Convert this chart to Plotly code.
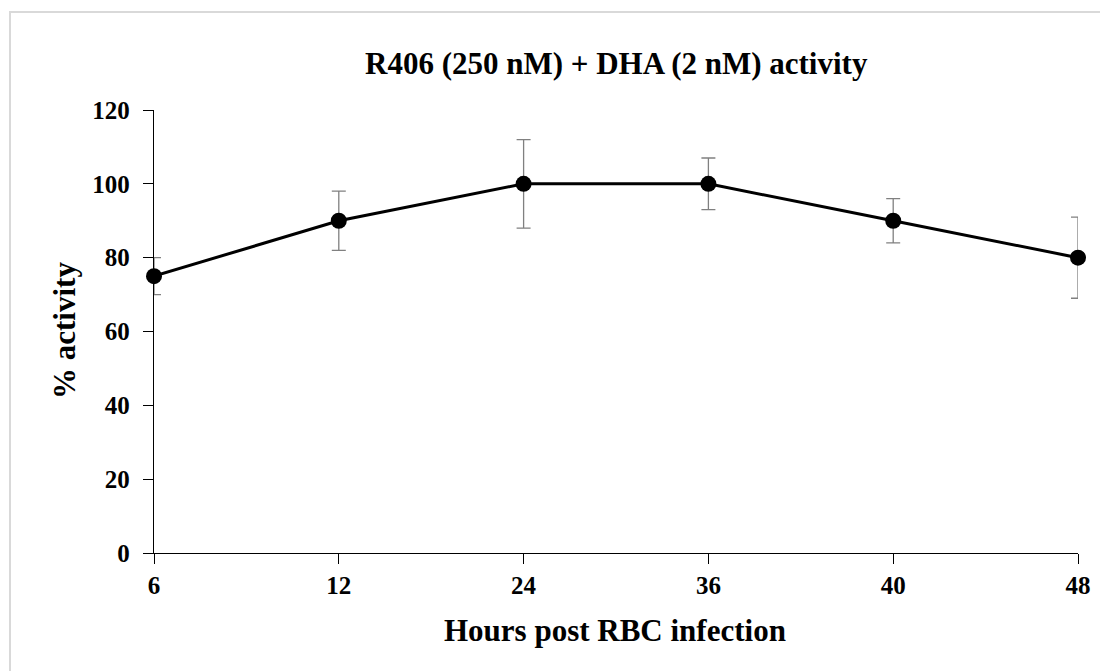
import plotly.graph_objects as go

hours = ["6", "12", "24", "36", "40", "48"]
activity = [75, 90, 100, 100, 90, 80]
err = [5, 8, 12, 7, 6, 11]
y_ticks = [0, 20, 40, 60, 80, 100, 120]

OFF = 8  # page body margin
W, H = 1108 - OFF, 671 - OFF
# screen-space plot area
SX0, SX1, SY0, SY1 = 154, 1078, 110, 553
L, R, T, B = SX0 - OFF, W - (SX1 - OFF), SY0 - OFF, H - (SY1 - OFF)
pw, ph = W - L - R, H - T - B

def px(xs):
    return (xs - OFF - L) / pw

def py(ys):
    return (H - B - (ys - OFF)) / ph

font = "Liberation Serif, Times New Roman, serif"

fig = go.Figure()
fig.add_trace(go.Scatter(
    x=hours, y=activity, mode="lines+markers",
    line=dict(color="black", width=3),
    marker=dict(color="black", size=16),
    error_y=dict(type="data", array=err, visible=True, color="#808080", thickness=1.3, width=7),
    cliponaxis=False, showlegend=False,
))

fig.update_layout(
    width=W, height=H,
    margin=dict(l=L, r=R, t=T, b=B),
    paper_bgcolor="white", plot_bgcolor="white",
    font=dict(family=font, color="black"),
    xaxis=dict(type="category", range=[0, 5], showline=True, linecolor="black", linewidth=1.3,
               ticks="outside", ticklen=10, tickcolor="black", showgrid=False, zeroline=False,
               tickfont=dict(size=25, family=font, weight="bold")),
    yaxis=dict(range=[0, 120], tickvals=y_ticks, showline=True, linecolor="black", linewidth=1.3,
               ticks="outside", ticklen=10, tickcolor="black", showgrid=False, zeroline=False,
               ticklabelstandoff=8,
               tickfont=dict(size=25, family=font, weight="bold")),
    annotations=[
        dict(text="<b>R406 (250 nM) + DHA (2 nM) activity</b>", xref="paper", yref="paper",
             x=px(616), y=py(64), xanchor="center", yanchor="middle", showarrow=False,
             font=dict(size=31, family=font)),
        dict(text="<b>Hours post RBC infection</b>", xref="paper", yref="paper",
             x=px(615), y=py(630), xanchor="center", yanchor="middle", showarrow=False,
             font=dict(size=31, family=font)),
        dict(text="<b>% activity</b>", xref="paper", yref="paper", textangle=-90,
             x=px(64), y=py(331), xanchor="center", yanchor="middle", showarrow=False,
             font=dict(size=31, family=font)),
    ],
    shapes=[dict(type="rect", xref="paper", yref="paper",
                 x0=px(10), x1=px(1125), y0=py(12), y1=py(690),
                 line=dict(color="#d9d9d9", width=2), fillcolor="rgba(0,0,0,0)", layer="below")],
)
fig.write_html("out.html")
